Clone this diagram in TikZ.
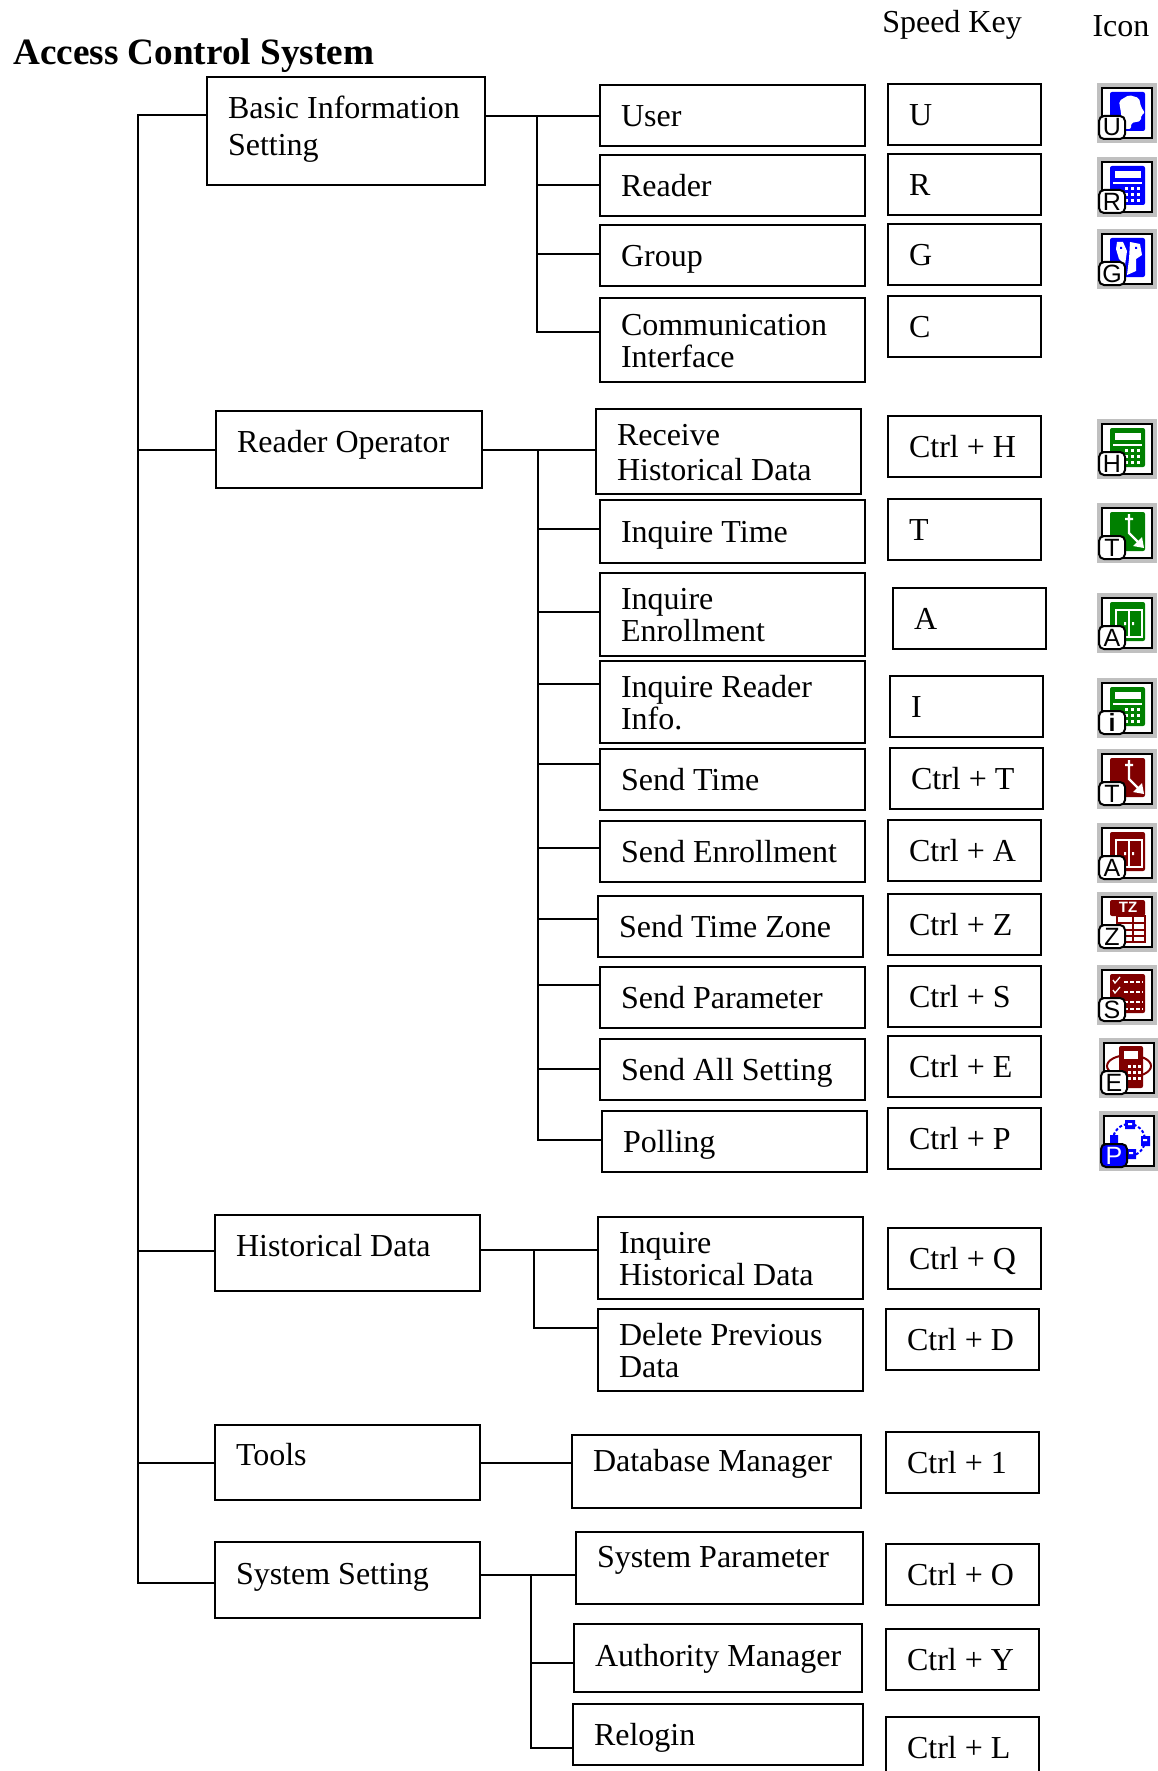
\documentclass[tikz,border=0pt]{standalone}
\usepackage{fontspec}
\setmainfont{Liberation Serif}
\setsansfont{Liberation Sans}
\usetikzlibrary{positioning}

\definecolor{iconblue}{RGB}{0,0,255}
\definecolor{icongreen}{RGB}{0,128,0}
\definecolor{iconred}{RGB}{128,0,0}
\definecolor{icongray}{RGB}{192,192,192}

% Toolbar icon: [badge fill], name, x, y, colour, letter, inner drawing
\newcommand{\toolicon}[7][white]{%
  \begin{scope}[shift={(#3,#4)}, iconcol/.style={#5}]
    \fill[icongray] (0,0) rectangle (60,60);
    \draw[line width=1.8pt, fill=white] (5,5) rectangle (55,55);
    #7
    \draw[line width=2pt, fill=#1, rounded corners=5pt] (2,33) rectangle (28,56);
    \node[badgetext] (#2) at (15,44.5) {#6};
  \end{scope}}
\newcommand{\iconblock}{\fill[iconcol, rounded corners=2pt] (13,9) rectangle (48,48);}
\newcommand{\calcface}{\iconblock
  \fill[white] (18,14) rectangle (44,21);
  \fill[white] (16,25) rectangle (45,27);
  \foreach \kx in {28,34,40} \foreach \ky in {30,36,42}
    \fill[white] (\kx,\ky) rectangle ++(3,3);}
\newcommand{\clockface}{\iconblock
  \draw[white, line width=2.4pt] (28,16) -- (36,16) (32,11) -- (32,30) -- (42,40);
  \fill[white] (47,45) -- (36,43) -- (45,34) -- cycle;}
\newcommand{\doorface}{\iconblock
  \draw[white, line width=1.6pt] (19,17) rectangle (45,44) (32,17) -- (32,44);
  \fill[white] (27,29) rectangle ++(2,3) (35,29) rectangle ++(2,3);}

\begin{document}
\begin{tikzpicture}[
    x=1pt, y=-1pt,
    wire/.style={line width=1.8pt, line cap=round},
    basebox/.style={rectangle, draw=black, line width=1.8pt, inner xsep=21pt, inner ysep=0pt, align=left,
      font=\fontsize{32}{32}\selectfont,
      execute at begin node={\spaceskip=.25em\rule{0pt}{29pt}}, execute at end node=\rule[-7pt]{0pt}{7pt}},
    groupbox/.style={basebox, text width=223pt, minimum height=76pt},
    menubox/.style={basebox, text width=223pt, minimum height=61pt},
    keybox/.style={basebox, text width=111pt, minimum height=61pt},
    lift/.style={text depth=7pt+2*#1},
    heading/.style={font=\fontsize{32}{32}\selectfont, inner sep=0pt},
    badgetext/.style={font=\fontsize{25}{25}\sffamily\selectfont, inner sep=0pt}
]
\useasboundingbox (0,0) rectangle (1158,1771);

% Headings
\node[font=\fontsize{37.2}{38}\bfseries\selectfont, inner sep=0pt, anchor=west] (title) at (13,55.5) {Access Control System};
\node[heading] (speedhead) at (952,25) {Speed Key};
\node[heading] (iconhead) at (1121,26) {Icon};

% Groups on the left
\node[groupbox, text width=236pt, minimum height=108pt, lift=23pt] (basic) at (346,131) {Basic Information\\[5pt]Setting};
\node[groupbox, text width=224pt, minimum height=77pt, lift=8pt] (operator) at (349,449.5) {Reader Operator};
\node[groupbox, lift=8pt] (history) at (347.5,1253) {Historical Data};
\node[groupbox, minimum height=75pt, lift=8pt] (tools) at (347.5,1462.5) {Tools};
\node[groupbox, lift=7pt] (system) at (347.5,1580) {System Setting};

% Menu items
\node[menubox] (user) at (732.5,115.5) {User};
\node[menubox] (reader) at (732.5,185.5) {Reader};
\node[menubox] (group) at (732.5,255.5) {Group};
\node[menubox, minimum height=84pt] (comm) at (732.5,340) {Communication\\Interface};

\node[menubox, minimum height=85pt] (receive) at (728.5,451.5) {Receive\\[3pt]Historical Data};
\node[menubox, minimum height=63pt] (inqtime) at (732.5,531.5) {Inquire Time};
\node[menubox, minimum height=83pt] (inqenrol) at (732.5,614.5) {Inquire\\Enrollment};
\node[menubox, minimum height=82pt] (inqinfo) at (732.5,702) {Inquire Reader\\Info.};
\node[menubox] (sendtime) at (732.5,779.5) {Send Time};
\node[menubox] (sendenrol) at (732.5,851.5) {Send Enrollment};
\node[menubox] (sendzone) at (730.5,926.5) {Send Time Zone};
\node[menubox] (sendparam) at (732.5,997.5) {Send Parameter};
\node[menubox] (sendall) at (732.5,1069.5) {Send All Setting};
\node[menubox] (polling) at (734.5,1141.5) {Polling};

\node[menubox, minimum height=82pt] (inqhist) at (730.5,1258) {Inquire\\Historical Data};
\node[menubox, minimum height=82pt] (delprev) at (730.5,1350) {Delete Previous\\Data};

\node[menubox, text width=247pt, minimum height=73pt, lift=11pt] (dbman) at (716.5,1471.5) {Database Manager};
\node[menubox, text width=245pt, minimum height=72pt, lift=12pt] (syspar) at (719.5,1568) {System Parameter};
\node[menubox, text width=246pt, minimum height=68pt, lift=3pt] (authman) at (718,1658) {\mbox{Authority Manager}};
\node[menubox, text width=248pt] (relogin) at (718,1734.5) {Relogin};

% Speed keys
\node[keybox] (keyu) at (964.5,114.5) {U};
\node[keybox] (keyr) at (964.5,184.5) {R};
\node[keybox] (keyg) at (964.5,254.5) {G};
\node[keybox] (keyc) at (964.5,326.5) {C};
\node[keybox] (keyh) at (964.5,446.5) {Ctrl + H};
\node[keybox] (keyt) at (964.5,529.5) {T};
\node[keybox] (keya) at (969.5,618.5) {A};
\node[keybox] (keyi) at (966.5,706.5) {I};
\node[keybox] (ctrlt) at (966.5,778.5) {Ctrl + T};
\node[keybox] (ctrla) at (964.5,850.5) {Ctrl + A};
\node[keybox] (ctrlz) at (964.5,924.5) {Ctrl + Z};
\node[keybox] (ctrls) at (964.5,996.5) {Ctrl + S};
\node[keybox] (ctrle) at (964.5,1066.5) {Ctrl + E};
\node[keybox] (ctrlp) at (964.5,1138.5) {Ctrl + P};
\node[keybox] (ctrlq) at (964.5,1258.5) {Ctrl + Q};
\node[keybox] (ctrld) at (962.5,1339.5) {Ctrl + D};
\node[keybox] (ctrlone) at (962.5,1462.5) {Ctrl + 1};
\node[keybox] (ctrlo) at (962.5,1574.5) {Ctrl + O};
\node[keybox] (ctrly) at (962.5,1659.5) {Ctrl + Y};
\node[keybox] (ctrll) at (962.5,1747.5) {Ctrl + L};

% Main trunk
\coordinate (trunk) at (138,115);
\coordinate (trunkend) at (138,1583);
\draw[wire] (basic.west |- trunk) -- (trunk) -- (trunkend) -- (system.west |- trunkend);
\foreach \grp/\ypos in {operator/450,history/1251,tools/1463}
  \draw[wire] (trunk |- 0,\ypos) -- (\grp.west |- 0,\ypos);

% Basic Information branches
\coordinate (busa) at (537,116);
\coordinate (busaend) at (537,332);
\draw[wire] (basic.east |- busa) -- (user.west |- busa);
\draw[wire] (busa) -- (busaend) -- (comm.west |- busaend);
\foreach \item/\ypos in {reader/185,group/254}
  \draw[wire] (busa |- 0,\ypos) -- (\item.west |- 0,\ypos);

% Reader Operator branches
\coordinate (busb) at (538,450);
\coordinate (busbend) at (538,1140);
\draw[wire] (operator.east |- busb) -- (receive.west |- busb);
\draw[wire] (busb) -- (busbend) -- (polling.west |- busbend);
\foreach \item/\ypos in {inqtime/529,inqenrol/612,inqinfo/684,sendtime/764,sendenrol/848,sendzone/919,sendparam/985,sendall/1069}
  \draw[wire] (busb |- 0,\ypos) -- (\item.west |- 0,\ypos);

% Historical Data branches
\coordinate (busc) at (534,1250);
\coordinate (buscend) at (534,1328);
\draw[wire] (history.east |- busc) -- (inqhist.west |- busc);
\draw[wire] (busc) -- (buscend) -- (delprev.west |- buscend);

% Tools branch
\draw[wire] (tools.east |- 0,1463) -- (dbman.west |- 0,1463);

% System Setting branches
\coordinate (busd) at (531,1575);
\coordinate (busdend) at (531,1748);
\draw[wire] (system.east |- busd) -- (syspar.west |- busd);
\draw[wire] (busd) -- (busdend) -- (relogin.west |- busdend);
\draw[wire] (busd |- 0,1663) -- (authman.west |- 0,1663);

% Icons
\toolicon{iconu}{1097}{83}{iconblue}{U}{\iconblock
  \fill[white, rounded corners=2pt] (24,30) -- (22,18) -- (32,12) -- (42,15) -- (44,24) -- (48,30) -- (44,32) -- (44,38) -- (34,40) -- (34,46) -- (26,46) -- cycle;}
\toolicon{iconr}{1097}{157}{iconblue}{R}{\calcface}
\toolicon{icong}{1097}{229}{iconblue}{G}{\iconblock
  \fill[white] (20,13) -- (26,13) -- (30,22) -- (28,36) -- (22,30) -- (19,20) -- cycle;
  \fill[white] (33,13) -- (43,15) -- (45,26) -- (39,30) -- (39,42) -- (30,46) -- (32,30) -- cycle;
  \fill[iconblue] (23,18) rectangle ++(2,2) (38,18) rectangle ++(2,2);}
\toolicon{iconh}{1097}{419}{icongreen}{H}{\calcface}
\toolicon{icont}{1097}{503}{icongreen}{T}{\clockface}
\toolicon{icona}{1097}{593}{icongreen}{A}{\doorface}
\toolicon{iconi}{1097}{678}{icongreen}{\textbf{i}}{\calcface}
\toolicon{iconct}{1097}{749}{iconred}{T}{\clockface}
\toolicon{iconca}{1097}{823}{iconred}{A}{\doorface}
\toolicon{iconcz}{1097}{892}{iconred}{Z}{\fill[iconred, rounded corners=2pt] (13,8) rectangle (48,24);
  \node[font=\fontsize{15}{15}\sffamily\bfseries\selectfont, text=white, inner sep=0pt] (tzlabel) at (31,15) {TZ};
  \draw[iconred, line width=1.6pt] (20,24) rectangle (48,50) (20,31) -- (48,31) (20,38) -- (48,38) (20,44) -- (48,44) (36,24) -- (36,50);}
\toolicon{iconcs}{1097}{965}{iconred}{S}{\iconblock
  \draw[white, line width=1.3pt] (16,15) -- (18,18) -- (23,12) (16,25) -- (18,28) -- (23,22);
  \foreach \rowy in {17,27,37,44}
    \draw[white, line width=1.6pt, dash pattern=on 4pt off 2pt] (27,\rowy) -- (46,\rowy);}
\toolicon{iconce}{1099}{1038}{iconred}{E}{\draw[iconred, line width=2pt] (30,28) ellipse [x radius=22, y radius=11];
  \fill[iconred, rounded corners=2pt] (20,8) rectangle (44,50);
  \fill[white] (25,13) rectangle (39,21);
  \foreach \kx in {29,34,39} \foreach \ky in {27,33,39}
    \fill[white] (\kx,\ky) rectangle ++(3,3);}
\toolicon[iconblue]{iconcp}{1099}{1111}{iconblue}{\textcolor{white}{P}}{\draw[iconblue, line width=2pt, dash pattern=on 3pt off 2pt] (30,29) circle [radius=16];
  \fill[iconblue] (26,9) rectangle ++(10,9) (42,25) rectangle ++(9,10) (27,38) rectangle ++(10,10) (11,24) rectangle ++(8,8);
  \fill[white] (29,12) rectangle ++(4,2) (44,28) rectangle ++(4,2) (30,41) rectangle ++(4,2);}

\end{tikzpicture}
\end{document}
